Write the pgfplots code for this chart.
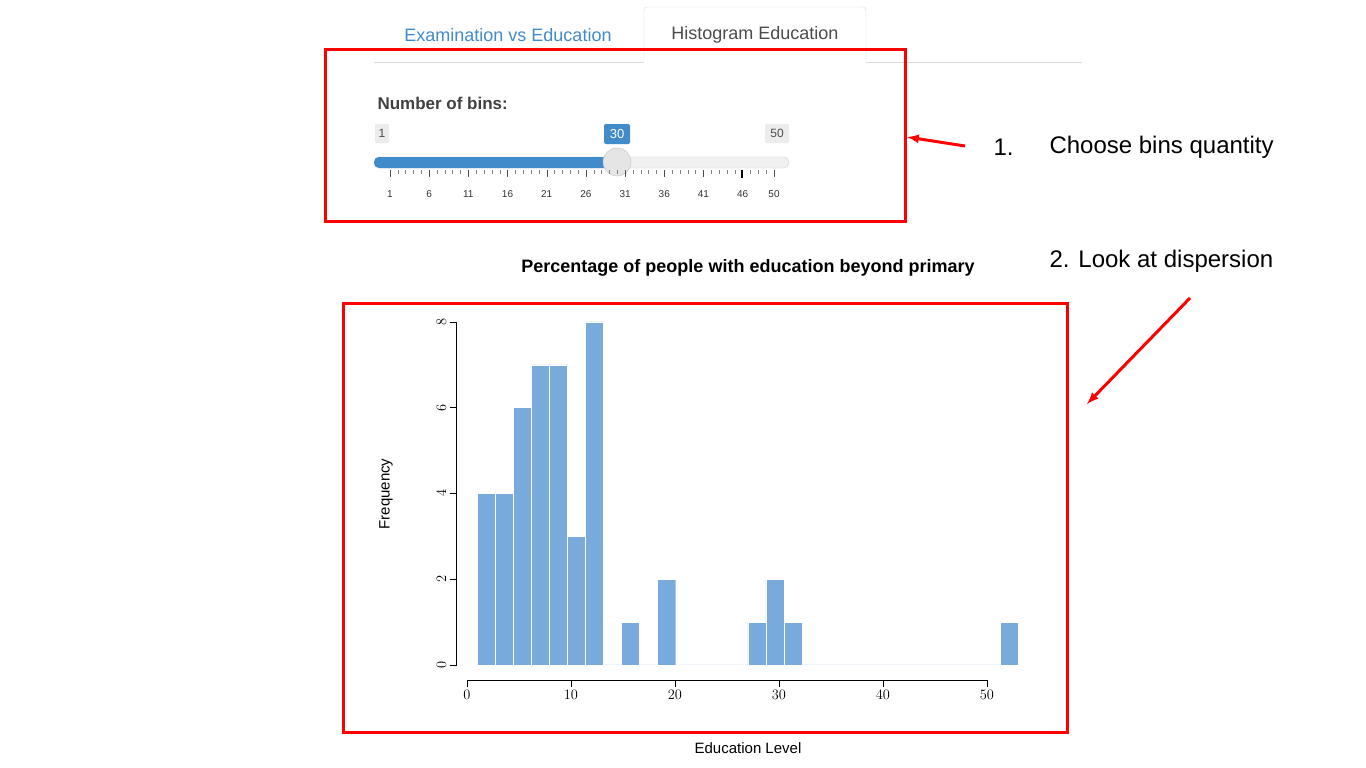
\documentclass[border=0pt]{standalone}
\usepackage{pgfplots}
\pgfplotsset{compat=1.18}
\usepackage{fontspec}
\setmainfont{Liberation Sans}
\definecolor{barblue}{RGB}{120,170,220}
\definecolor{tabblue}{RGB}{66,139,202}
\definecolor{sl}{RGB}{66,139,202}
\begin{document}
\begin{tikzpicture}[x=1pt,y=-1pt]
\fill[white] (0,0) rectangle (1366,768);
\clip (0,0) rectangle (1366,768);
% tabs
\draw[gray!30] (374,62) -- (644,62);
\draw[gray!30] (866,62) -- (1082,62);
\draw[gray!30,rounded corners=3pt] (644,62) -- (644,7) -- (866,7) -- (866,62);
\node[text=tabblue,font=\fontsize{18}{20}\selectfont] at (508,35) {Examination vs Education};
\node[text=black!70,font=\fontsize{18}{20}\selectfont] at (755,35) {Histogram Education};
% slider
\node[anchor=west,text=black!75,font=\bfseries\fontsize{17}{20}\selectfont] at (374,103) {Number of bins:};
\fill[gray!15,rounded corners=2pt] (375,124) rectangle (389,143);
\node[font=\fontsize{12}{14}\selectfont,text=black!70] at (382,133) {1};
\fill[gray!15,rounded corners=2pt] (765,124) rectangle (789,143);
\node[font=\fontsize{12}{14}\selectfont,text=black!70] at (777,133) {50};
\fill[sl,rounded corners=2pt] (604,124) rectangle (630,144);
\node[font=\fontsize{13}{14}\selectfont,text=white] at (617,134) {30};
\fill[gray!12,draw=gray!35,rounded corners=5pt] (374,157) rectangle (789,168);
\fill[sl,rounded corners=5pt] (374,157) rectangle (617,168);
\fill[gray!20,draw=gray!50] (617,162) circle (14);
\foreach \v in {1,6,...,46,50}{
  \pgfmathsetmacro\px{390+(\v-1)/49*384}
  \draw[black!70] (\px,170) -- (\px,177);
  \node[font=\fontsize{10}{12}\selectfont,text=black!80] at (\px,194) {\v};
}
\foreach \v in {2,3,4,5,7,8,9,10,12,13,14,15,17,18,19,20,22,23,24,25,27,28,29,30,32,33,34,35,37,38,39,40,42,43,44,45,47,48,49}{
  \pgfmathsetmacro\px{390+(\v-1)/49*384}
  \draw[black!50] (\px,170) -- (\px,174);
}
\draw[black,line width=1.5pt] (742,170) -- (742,178);
% red boxes and arrows
\draw[red,line width=3pt] (325,50) rectangle (905,221);
\draw[red,line width=3pt] (343,303) rectangle (1067,732);
\draw[red,line width=3pt,-latex] (965,146) -- (907,137);
\draw[red,line width=3pt,-latex] (1190,298) -- (1087,404);
\node[anchor=west,font=\fontsize{24}{28}\selectfont] at (990,147) {1.};
\node[anchor=west,font=\fontsize{24}{28}\selectfont] at (1046,147) {Choose bins quantity};
\node[anchor=west,font=\fontsize{24}{28}\selectfont] at (1046,261) {2. Look at dispersion};
% histogram
\node[font=\bfseries\fontsize{18}{20}\selectfont] at (748,268) {Percentage of people with education beyond primary};
\node[font=\fontsize{15}{17}\selectfont] at (748,748) {Education Level};
\node[font=\fontsize{15}{17}\selectfont,rotate=90] at (386,494) {Frequency};
\begin{axis}[at={(456.6pt,-680pt)},anchor=south west,scale only axis,
  width=592.8pt,height=371pt,xmin=-1,xmax=56,ymin=-0.35,ymax=8.3,
  axis x line=bottom,axis y line=left,axis line style={draw=none},
  xtick={0,10,...,50},ytick={0,2,...,8},tick align=outside,major tick length=7pt,
  tick style={black,thin},
  ticklabel style={font=\fontsize{14}{16}\selectfont},
  yticklabel style={rotate=90,anchor=south},
  clip=false]
\draw[black] (axis cs:0,-0.35) -- (axis cs:50,-0.35);
\draw[black] (axis cs:-1,0) -- (axis cs:-1,8);
\addplot[ybar interval,fill=barblue,draw=white] coordinates {
(1,4)(2.733,4)(4.467,6)(6.2,7)(7.933,7)(9.667,3)(11.4,8)(13.133,0)(14.867,1)(16.6,0)
(18.333,2)(20.067,0)(21.8,0)(23.533,0)(25.267,0)(27,1)(28.733,2)(30.467,1)(32.2,0)
(33.933,0)(35.667,0)(37.4,0)(39.133,0)(40.867,0)(42.6,0)(44.333,0)(46.067,0)(47.8,0)
(49.533,0)(51.267,1)(53,1)};
\end{axis}
\end{tikzpicture}
\end{document}
